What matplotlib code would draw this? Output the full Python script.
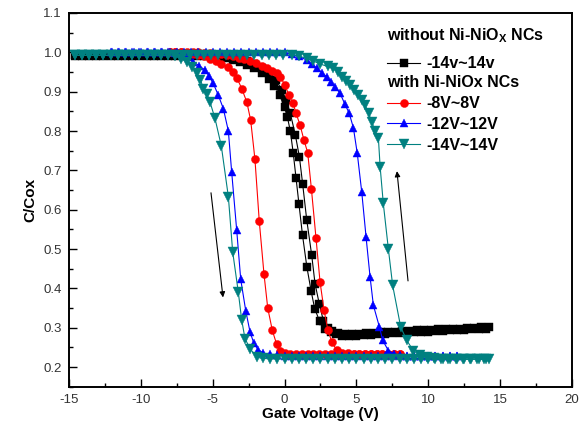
import matplotlib
matplotlib.use("Agg")
import matplotlib.pyplot as plt
from matplotlib.ticker import MultipleLocator

plt.rcParams['font.family'] = ['Liberation Sans', 'DejaVu Sans']
plt.rcParams['axes.unicode_minus'] = False

# ---------------- data: (gate voltage V, C/Cox) ----------------
# without Ni-NiOx NCs, -14v~14v
bk_fwd = [(-14.6, .99), (-14.1, .99), (-13.6, .99), (-13.1, .99), (-12.6, .99), (-12.1, .99),
          (-11.6, .99), (-11.1, .99), (-10.6, .99), (-10.1, .99), (-9.6, .99), (-9.1, .99),
          (-8.6, .99), (-8.1, .99), (-7.6, .99), (-7.1, .99), (-6.6, .99), (-6.1, .99),
          (-5.6, .99), (-5.1, .99), (-4.6, .988), (-4.1, .985), (-3.6, .981), (-3.1, .976),
          (-2.6, .969), (-2.1, .96), (-1.6, .948), (-1.1, .932), (-0.7, .915), (-0.35, .892),
          (0.0, .86), (0.2, .835), (0.4, .80), (0.6, .745), (0.8, .68), (1.0, .615), (1.25, .535),
          (1.55, .455), (1.85, .393), (2.1, .348), (2.45, .316), (2.8, .298), (3.2, .288),
          (3.6, .283), (4.0, .28), (4.5, .279), (5.0, .28), (5.5, .281), (6.0, .282), (6.5, .284),
          (7.0, .285), (7.5, .286), (8.0, .287), (8.5, .288), (9.0, .289), (9.5, .29), (10.0, .29),
          (10.5, .291), (11.0, .292), (11.5, .293), (12.0, .294), (12.5, .295), (13.0, .296),
          (13.5, .297), (14.0, .298)]
bk_bwd = [(-14.6, .993), (-14.1, .993), (-13.6, .993), (-13.1, .993), (-12.6, .993), (-12.1, .993),
          (-11.6, .993), (-11.1, .993), (-10.6, .993), (-10.1, .993), (-9.6, .993), (-9.1, .993),
          (-8.6, .993), (-8.1, .993), (-7.6, .993), (-7.1, .993), (-6.6, .993), (-6.1, .993),
          (-5.6, .993), (-5.1, .993), (-4.6, .991), (-4.1, .989), (-3.6, .986), (-3.1, .982),
          (-2.6, .977), (-2.1, .97), (-1.6, .961), (-1.1, .948), (-0.6, .93), (-0.2, .905),
          (0.1, .88), (0.4, .845), (0.75, .79), (1.03, .735), (1.26, .665), (1.54, .575),
          (1.89, .484), (2.12, .412), (2.42, .36), (2.7, .318), (3.0, .30), (3.3, .292),
          (3.7, .287), (4.2, .284), (4.7, .284), (5.2, .285), (5.7, .286), (6.2, .287), (6.7, .288),
          (7.2, .289), (7.7, .29), (8.2, .291), (8.7, .292), (9.2, .293), (9.7, .294), (10.2, .295),
          (10.7, .296), (11.2, .297), (11.7, .297), (12.2, .298), (12.7, .299), (13.2, .30),
          (13.7, .301), (14.2, .302)]

# with Ni-NiOx NCs, -8V~8V
rd_fwd = [(-8.0, 1.0), (-7.6, 1.0), (-7.2, 1.0), (-6.8, .999), (-6.4, .997), (-6.0, .994),
          (-5.6, .99), (-5.2, .984), (-4.8, .978), (-4.4, .971), (-3.91, .962), (-3.6, .95),
          (-3.33, .936), (-2.98, .908), (-2.63, .874), (-2.36, .828), (-2.06, .728), (-1.76, .571),
          (-1.43, .436), (-1.17, .35), (-0.85, .293), (-0.55, .258), (-0.32, .242), (0.0, .236),
          (0.4, .234), (0.8, .233), (1.2, .233), (1.6, .233), (2.0, .233), (2.4, .233), (2.8, .233),
          (3.2, .233), (3.6, .232), (4.0, .232), (4.4, .232), (4.8, .232), (5.2, .232), (5.6, .232),
          (6.0, .232), (6.4, .232), (6.8, .232), (7.2, .232), (7.6, .232), (8.0, .232)]
rd_bwd = [(-8.0, 1.0), (-7.6, 1.0), (-7.2, 1.0), (-6.8, 1.0), (-6.4, 1.0), (-6.0, 1.0),
          (-5.6, .999), (-5.2, .998), (-4.8, .997), (-4.4, .995), (-4.0, .993), (-3.6, .99),
          (-3.2, .986), (-2.8, .982), (-2.4, .977), (-2.0, .972), (-1.6, .966), (-1.2, .96),
          (-0.85, .953), (-0.55, .947), (-0.31, .938), (0.03, .917), (0.3, .891), (0.6, .87),
          (0.8, .845), (1.08, .815), (1.35, .777), (1.61, .745), (1.87, .652), (2.19, .527),
          (2.47, .416), (2.75, .344), (3.02, .293), (3.3, .263), (3.63, .243), (4.0, .237),
          (4.4, .235), (4.8, .234), (5.2, .234), (5.6, .233), (6.0, .233), (6.4, .233), (6.8, .233),
          (7.2, .233), (7.6, .233), (8.0, .233)]

# with Ni-NiOx NCs, -12V~12V
bl_fwd = [(-12.1, 1.0), (-11.6, 1.0), (-11.1, 1.0), (-10.6, 1.0), (-10.1, 1.0), (-9.6, 1.0),
          (-9.1, 1.0), (-8.6, 1.0), (-8.1, 1.0), (-7.6, .998), (-7.1, .995), (-6.7, .987),
          (-6.35, .976), (-5.95, .966), (-5.54, .955), (-5.25, .94), (-4.96, .921), (-4.61, .891),
          (-4.26, .857), (-3.91, .80), (-3.68, .696), (-3.33, .548), (-3.05, .423), (-2.7, .343),
          (-2.4, .289), (-2.13, .26), (-1.83, .244), (-1.5, .236), (-1.0, .232), (-0.5, .23),
          (0.0, .229), (0.5, .229), (1.0, .229), (1.5, .229), (2.0, .229), (2.5, .229), (3.0, .229),
          (3.5, .229), (4.0, .229), (4.5, .228), (5.0, .228), (5.5, .228), (6.0, .228), (6.5, .228),
          (7.0, .228), (7.5, .228), (8.0, .228), (8.5, .228), (9.0, .228), (9.5, .228),
          (10.0, .228), (10.5, .228), (11.0, .228), (11.5, .228), (12.0, .228)]
bl_bwd = [(-12.0, 1.0), (-11.5, 1.0), (-11.0, 1.0), (-10.5, 1.0), (-10.0, 1.0), (-9.5, 1.0),
          (-9.0, 1.0), (-8.5, 1.0), (-8.0, 1.0), (-7.5, 1.0), (-7.0, 1.0), (-6.5, 1.0), (-6.0, 1.0),
          (-5.5, 1.0), (-5.0, 1.0), (-4.5, 1.0), (-4.0, 1.0), (-3.5, 1.0), (-3.0, 1.0), (-2.5, 1.0),
          (-2.0, 1.0), (-1.5, 1.0), (-1.0, 1.0), (-0.5, 1.0), (0.0, 1.0), (0.5, .995), (1.0, .99),
          (1.54, .98), (1.9, .97), (2.24, .959), (2.6, .948), (2.93, .938), (3.25, .925),
          (3.51, .913), (3.86, .896), (4.2, .868), (4.5, .845), (4.79, .808), (5.06, .743),
          (5.37, .645), (5.67, .531), (5.95, .429), (6.18, .357), (6.6, .302), (6.83, .268),
          (7.22, .242), (7.6, .234), (8.0, .231), (8.5, .229), (9.0, .229), (9.5, .228),
          (10.0, .228), (10.5, .228), (11.0, .228), (11.5, .228), (12.0, .228)]

# with Ni-NiOx NCs, -14V~14V
tl_fwd = [(-14.6, .992), (-14.1, .992), (-13.6, .992), (-13.1, .992), (-12.6, .992), (-12.1, .992),
          (-11.6, .992), (-11.1, .992), (-10.6, .992), (-10.1, .992), (-9.6, .992), (-9.1, .992),
          (-8.6, .992), (-8.1, .992), (-7.6, .99), (-7.2, .984), (-6.81, .976), (-6.45, .963),
          (-6.11, .947), (-5.85, .93), (-5.65, .908), (-5.4, .893), (-5.19, .874), (-4.84, .832),
          (-4.4, .762), (-3.91, .633), (-3.61, .493), (-3.22, .391), (-2.98, .319), (-2.75, .272),
          (-2.4, .247), (-1.94, .225), (-1.5, .222), (-1.0, .221), (-0.5, .221), (0.0, .22),
          (0.5, .22), (1.0, .22), (1.5, .22), (2.0, .22), (2.5, .22), (3.0, .22), (3.5, .22),
          (4.0, .22), (4.5, .22), (5.0, .22), (5.5, .22), (6.0, .22), (6.5, .22), (7.0, .22),
          (7.5, .22), (8.0, .22), (8.5, .22), (9.0, .22), (9.5, .22), (10.0, .22), (10.5, .22),
          (11.0, .22), (11.5, .22), (12.0, .22), (12.5, .22), (13.0, .22), (13.5, .22), (14.0, .22)]
tl_bwd = [(-14.6, .993), (-14.1, .993), (-13.6, .993), (-13.1, .993), (-12.6, .993), (-12.1, .993),
          (-11.6, .993), (-11.1, .993), (-10.6, .993), (-10.1, .993), (-9.6, .993), (-9.1, .993),
          (-8.6, .993), (-8.1, .993), (-7.6, .993), (-7.1, .993), (-6.6, .993), (-6.1, .993),
          (-5.6, .993), (-5.1, .993), (-4.6, .993), (-4.1, .993), (-3.6, .993), (-3.1, .993),
          (-2.6, .993), (-2.1, .993), (-1.6, .993), (-1.1, .993), (-0.6, .993), (-0.1, .993),
          (0.5, .993), (1.0, .99), (1.54, .985), (2.0, .978), (2.5, .97), (3.0, .964), (3.39, .959),
          (3.7, .95), (3.97, .938), (4.25, .928), (4.55, .917), (4.85, .905), (5.14, .891),
          (5.37, .878), (5.6, .866), (5.85, .845), (6.07, .823), (6.3, .80), (6.53, .781),
          (6.65, .709), (6.87, .616), (7.22, .501), (7.52, .408), (8.08, .302), (8.5, .268),
          (8.96, .242), (9.4, .23), (9.9, .225), (10.4, .222), (10.9, .221), (11.4, .22),
          (11.9, .22), (12.4, .22), (12.9, .22), (13.4, .22), (13.9, .22), (14.2, .22)]

labels = ['-14v~14v', '-8V~8V', '-12V~12V', '-14V~14V']
colors = ['#000000', '#ff0000', '#0000ff', '#008080']
markers = ['s', 'o', '^', 'v']

# ---------------- figure ----------------
fig = plt.figure(figsize=(5.88, 4.40), dpi=100)
ax = fig.add_axes([0.1173, 0.121, 0.8555, 0.8495])

series = [(bk_fwd, bk_bwd), (rd_fwd, rd_bwd), (bl_fwd, bl_bwd), (tl_fwd, tl_bwd)]
msizes = [5.3, 5.8, 6.3, 6.5]
handles = []
for branches, col, mk, ms, lab in zip(series, colors, markers, msizes, labels):
    for br in branches:
        v = [p[0] for p in br]
        c = [p[1] for p in br]
        h, = ax.plot(v, c, color=col, marker=mk, markersize=ms, linewidth=0.8,
                     markeredgewidth=0.3, markeredgecolor=col, label=lab)
    handles.append(h)

ax.annotate('', xy=(-4.26, 0.37), xytext=(-5.14, 0.65),
            arrowprops=dict(arrowstyle='-|>', color='black', lw=0.8, mutation_scale=8))
ax.annotate('', xy=(7.8, 0.705), xytext=(8.61, 0.412),
            arrowprops=dict(arrowstyle='-|>', color='black', lw=0.8, mutation_scale=8))

ax.set_xlim(-15, 20)
ax.set_ylim(0.15, 1.1)
ax.xaxis.set_major_locator(MultipleLocator(5))
ax.xaxis.set_minor_locator(MultipleLocator(2.5))
ax.yaxis.set_major_locator(MultipleLocator(0.1))
ax.yaxis.set_minor_locator(MultipleLocator(0.05))
ax.yaxis.set_major_formatter(plt.FormatStrFormatter('%.1f'))
ax.tick_params(which='both', direction='in', top=False, right=False, labelsize=9.5,
               labelcolor='#333333', width=1.0)
ax.tick_params(which='major', length=5.5, pad=5)
ax.tick_params(which='minor', length=3)
for sp in ax.spines.values():
    sp.set_linewidth(1.4)

ax.set_xlabel('Gate Voltage (V)', fontsize=11, fontweight='bold', labelpad=1)
ax.set_ylabel('C/Cox', fontsize=11, fontweight='bold', labelpad=4)

bold = {'weight': 'bold', 'size': 11.5}
leg1 = ax.legend(handles=[handles[0]], labels=[labels[0]], loc='upper left',
                 bbox_to_anchor=(0.632, 0.964), frameon=False, borderpad=0, borderaxespad=0,
                 handlelength=2.1, handletextpad=0.35, labelspacing=0.7, prop=bold,
                 title='without Ni-NiO$_\\mathregular{X}$ NCs', title_fontproperties=bold,
                 alignment='left')
ax.add_artist(leg1)
leg2 = ax.legend(handles=handles[1:], labels=labels[1:], loc='upper left',
                 bbox_to_anchor=(0.632, 0.833), frameon=False, borderpad=0, borderaxespad=0,
                 handlelength=2.1, handletextpad=0.35, labelspacing=0.36, prop=bold,
                 title='with Ni-NiOx NCs', title_fontproperties=bold, alignment='left')

fig.savefig('out.png', dpi=100)
